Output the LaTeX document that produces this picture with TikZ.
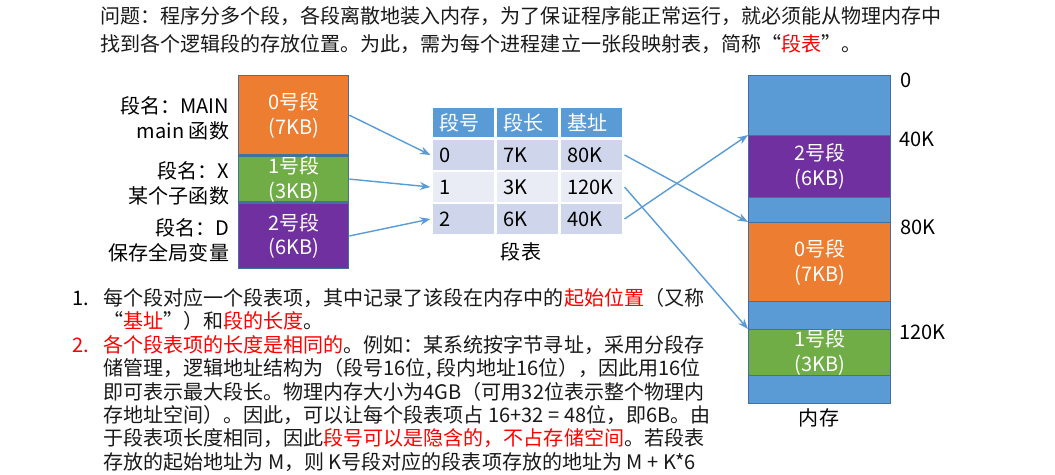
\documentclass[tikz,border=0pt]{standalone}
\usepackage{fontspec}
\setmainfont{Noto Sans CJK SC}
\usepackage{tikz}
\usetikzlibrary{arrows.meta, positioning}

\definecolor{segorange}{HTML}{ED7D31}
\definecolor{seggreen}{HTML}{70AD47}
\definecolor{segpurple}{HTML}{7030A0}
\definecolor{memblue}{HTML}{5B9BD5}
\definecolor{edgeblue}{HTML}{41719C}
\definecolor{rowdark}{HTML}{CFD5EA}
\definecolor{rowlight}{HTML}{E9EBF5}
\definecolor{txtred}{HTML}{FF0000}
\newcommand{\redtxt}[1]{\textcolor{txtred}{#1}}
\newcommand{\bodyfont}{\fontsize{11.4}{14.2}\selectfont}

\tikzset{
  segbox/.style={draw=edgeblue, line width=0.8pt, minimum width=2.2cm,
    inner sep=0pt, anchor=north west},
  memseg/.style={segbox, minimum width=2.84cm},
  seglbl/.style={text=white, align=center, font=\bodyfont, inner sep=0pt},
  namelbl/.style={align=right, font=\bodyfont, inner sep=0pt, anchor=east},
  cell/.style={draw=white, line width=1.2pt, minimum width=1.28cm,
    minimum height=0.64cm, text width=0.96cm, inner xsep=0.16cm,
    inner ysep=0pt, align=left, font=\bodyfont},
  link/.style={draw=memblue, line width=0.8pt, -{Stealth[length=6pt,width=4.5pt]}},
  addr/.style={anchor=west, font=\bodyfont, inner sep=0pt}
}

\begin{document}
\begin{tikzpicture}[x=0.02cm, y=-0.02cm]
  \useasboundingbox (0,0) rectangle (1055,475);

  % intro text
  \node[anchor=north west, align=left, inner sep=0pt, text=black!90,
    font={\fontsize{11.4}{15.9}\selectfont}] (intro) at (100,6)
    {问题：程序分多个段，各段离散地装入内存，为了保证程序能正常运行，就必须能从物理内存中\\
     找到各个逻辑段的存放位置。为此，需为每个进程建立一张段映射表，简称“\redtxt{段表}”。};

  % logical segments
  \node[segbox, fill=segorange, minimum height=1.58cm] (s0) at (238,75) {};
  \node[segbox, fill=seggreen, minimum height=0.92cm, below=0pt of s0, anchor=north] (s1) {};
  \node[segbox, fill=segpurple, minimum height=1.3cm, below=0pt of s1, anchor=north] (s2) {};
  \node[seglbl] at (s0) {0号段\\(7KB)};
  \node[seglbl] at (s1) {1号段\\(3KB)};
  \node[seglbl] at (s2) {2号段\\(6KB)};

  \node[namelbl, left=0.2cm of s0.east, xshift=-2.2cm, yshift=-0.06cm] (n0) {段名：MAIN\\main 函数};
  \node[namelbl, left=0.2cm of s1.east, xshift=-2.2cm, yshift=-0.08cm] (n1) {段名：X\\某个子函数};
  \node[namelbl, left=0.2cm of s2.east, xshift=-2.2cm, yshift=-0.08cm] (n2) {段名：D\\保存全局变量};

  % segment table
  \foreach \c/\x/\t in {1/463.5/段号, 2/527.5/段长, 3/591.5/基址}
    \node[cell, fill=memblue, text=white] (h\c) at (\x,122.5) {\t};
  \foreach \r/\y/\f/\a/\b/\d in {0/155/rowdark/0/7K/80K,
                                 1/187/rowlight/1/3K/120K,
                                 2/219/rowdark/2/6K/40K} {
    \node[cell, fill=\f] (r\r-1) at (463.5,\y) {\a};
    \node[cell, fill=\f] (r\r-2) at (527.5,\y) {\b};
    \node[cell, fill=\f] (r\r-3) at (591.5,\y) {\d};
  }
  \node[font=\bodyfont, inner sep=0pt] (tcap) at (521,252) {段表};

  % physical memory
  \node[memseg, fill=memblue, minimum height=6.56cm] (mem) at (748,75) {};
  \node[memseg, fill=segpurple, minimum height=1.24cm] (m2) at (748,135) {};
  \node[memseg, fill=segorange, minimum height=1.58cm] (m0) at (748,222) {};
  \node[memseg, fill=seggreen, minimum height=0.92cm] (m1) at (748,329) {};
  \node[seglbl] at (m2) {2号段\\(6KB)};
  \node[seglbl] at (m0) {0号段\\(7KB)};
  \node[seglbl] at (m1) {1号段\\(3KB)};
  \node[font=\bodyfont, inner sep=0pt] (mcap) at (819,418) {内存};

  \node[addr] (a0) at (900,80) {0};
  \node[addr] (a40) at (899,139) {40K};
  \node[addr] (a80) at (900,227) {80K};
  \node[addr] (a120) at (899,332) {120K};

  % connectors
  \draw[link] (s0.east) -- (r0-1.west);
  \draw[link] (s1.east) -- (r1-1.west);
  \draw[link] (s2.east) -- (r2-1.west);
  \draw[link] (r0-3.east) -- (m0.north west);
  \draw[link] (r1-3.east) -- (m1.north west);
  \draw[link] (r2-3.east) -- (m2.north west);

  % notes
  \node[anchor=west, font=\bodyfont, inner sep=0pt] (k1) at (72,298) {1.};
  \node[anchor=west, font=\bodyfont, inner sep=0pt, text=txtred] (k2) at (72,345) {2.};
  \node[anchor=north west, align=left, inner sep=0pt, text=black!90,
    font={\fontsize{11.4}{13.3}\selectfont}] (item1) at (103,288)
    {每个段对应一个段表项，其中记录了该段在内存中的\redtxt{起始位置}（又称\\
     “\redtxt{基址}”）和\redtxt{段的长度}。};
  \node[anchor=north west, align=left, inner sep=0pt, text=black!90,
    font={\fontsize{11.4}{13.3}\selectfont}] (item2) at (103,335)
    {\redtxt{各个段表项的长度是相同的}。例如：某系统按字节寻址，采用分段存\\
     储管理，逻辑地址结构为（段号16位, 段内地址16位），因此用16位\\
     即可表示最大段长。物理内存大小为4GB（可用32位表示整个物理内\\
     存地址空间）。因此，可以让每个段表项占 16+32 = 48位，即6B。由\\
     于段表项长度相同，因此\redtxt{段号可以是隐含的，不占存储空间}。若段表\\
     存放的起始地址为 M，则 K号段对应的段表项存放的地址为 M + K*6};
\end{tikzpicture}
\end{document}
